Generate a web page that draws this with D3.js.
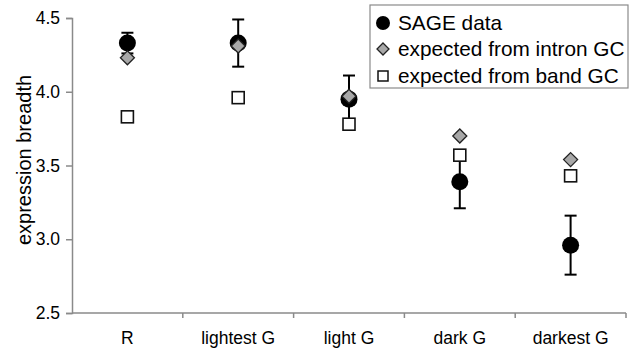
<!DOCTYPE html>
<html>
<head>
<meta charset="utf-8">
<script src="https://cdn.jsdelivr.net/npm/d3@7"></script>
<style>
  body { margin: 0; background: #fff; }
  text { font-family: "Liberation Sans", Arial, sans-serif; fill: #000; }
</style>
</head>
<body>
<svg id="chart" width="631" height="351"></svg>
<script>
// values
const categories = ["R", "lightest G", "light G", "dark G", "darkest G"];
const sage   = [4.33, 4.33, 3.95, 3.39, 2.96];
const sageHi = [4.40, 4.49, 4.11, 3.57, 3.16];
const sageLo = [4.26, 4.17, 3.79, 3.21, 2.76];
const intron = [4.23, 4.31, 3.97, 3.70, 3.54];
const band   = [3.83, 3.96, 3.78, 3.57, 3.43];
const yTicks = [2.5, 3.0, 3.5, 4.0, 4.5];
const legendLabels = ["SAGE data", "expected from intron GC", "expected from band GC"];

const svg = d3.select("#chart");
const plotLeft = 72, plotRight = 626, plotTop = 18, plotBottom = 313;
const axisColor = "#8a8a8a";

const x = d3.scaleBand().domain(categories).range([plotLeft, plotRight]).padding(0);
const y = d3.scaleLinear().domain([2.5, 4.5]).range([plotBottom, plotTop]);
const cx = c => x(c) + x.bandwidth() / 2;

// y axis
const yAxis = svg.append("g")
  .attr("transform", "translate(" + plotLeft + ",0)")
  .call(d3.axisLeft(y).tickValues(yTicks).tickFormat(d3.format(".1f")).tickSize(6).tickPadding(6));
yAxis.select(".domain").attr("stroke", axisColor).attr("stroke-width", 1.5);
yAxis.selectAll(".tick line").attr("stroke", axisColor).attr("stroke-width", 1.5);
yAxis.selectAll("text").attr("font-size", 17.5).attr("fill", "#000")
  .style("font-family", "'Liberation Sans', Arial, sans-serif");

// x axis: line, ticks between categories, labels centred
svg.append("line")
  .attr("x1", plotLeft).attr("x2", plotRight).attr("y1", plotBottom).attr("y2", plotBottom)
  .attr("stroke", axisColor).attr("stroke-width", 1.5);
svg.selectAll(".xtick")
  .data(categories)
  .enter().append("line")
  .attr("x1", d => x(d) + x.bandwidth()).attr("x2", d => x(d) + x.bandwidth())
  .attr("y1", plotBottom).attr("y2", plotBottom + 5)
  .attr("stroke", axisColor).attr("stroke-width", 1.5);
svg.selectAll(".xlabel")
  .data(categories)
  .enter().append("text")
  .attr("x", d => cx(d)).attr("y", plotBottom + 31)
  .attr("text-anchor", "middle").attr("font-size", 17.5)
  .text(d => d);

// y title
svg.append("text")
  .attr("transform", "translate(31,160) rotate(-90)")
  .attr("text-anchor", "middle").attr("font-size", 20)
  .text("expression breadth");

// error bars
const eb = svg.append("g").attr("stroke", "#000").attr("stroke-width", 2);
categories.forEach((c, i) => {
  eb.append("line").attr("x1", cx(c)).attr("x2", cx(c)).attr("y1", y(sageHi[i])).attr("y2", y(sageLo[i]));
  eb.append("line").attr("x1", cx(c) - 6).attr("x2", cx(c) + 6).attr("y1", y(sageHi[i])).attr("y2", y(sageHi[i]));
  eb.append("line").attr("x1", cx(c) - 6).attr("x2", cx(c) + 6).attr("y1", y(sageLo[i])).attr("y2", y(sageLo[i]));
});

// SAGE circles
svg.selectAll(".sage")
  .data(sage)
  .enter().append("circle")
  .attr("cx", (d, i) => cx(categories[i])).attr("cy", d => y(d))
  .attr("r", 8.5).attr("fill", "#000");

// intron diamonds
const diamond = s => "M0," + (-s) + "L" + s + ",0L0," + s + "L" + (-s) + ",0Z";
svg.selectAll(".intron")
  .data(intron)
  .enter().append("path")
  .attr("d", diamond(7))
  .attr("transform", (d, i) => "translate(" + cx(categories[i]) + "," + y(d) + ")")
  .attr("fill", "#a8a8a8").attr("stroke", "#222").attr("stroke-width", 1.3);

// band squares
svg.selectAll(".band")
  .data(band)
  .enter().append("rect")
  .attr("x", (d, i) => cx(categories[i]) - 6).attr("y", d => y(d) - 6)
  .attr("width", 12).attr("height", 12)
  .attr("fill", "#fff").attr("stroke", "#111").attr("stroke-width", 1.6);

// legend
const lg = svg.append("g").attr("transform", "translate(370,5)");
lg.append("rect").attr("x", 0).attr("y", 0).attr("width", 258).attr("height", 83)
  .attr("fill", "#fff").attr("stroke", "#8a8a8a").attr("stroke-width", 1.2);
const rowY = [18, 44, 71];
lg.append("circle").attr("cx", 13).attr("cy", rowY[0]).attr("r", 7).attr("fill", "#000");
lg.append("path").attr("d", diamond(6)).attr("transform", "translate(13," + rowY[1] + ")")
  .attr("fill", "#a8a8a8").attr("stroke", "#222").attr("stroke-width", 1.3);
lg.append("rect").attr("x", 8).attr("y", rowY[2] - 5).attr("width", 10).attr("height", 10)
  .attr("fill", "#fff").attr("stroke", "#111").attr("stroke-width", 1.5);
lg.selectAll(".lt")
  .data(legendLabels)
  .enter().append("text")
  .attr("x", 28).attr("y", (d, i) => rowY[i] + 7)
  .attr("font-size", 20.8)
  .text(d => d);
</script>
</body>
</html>
